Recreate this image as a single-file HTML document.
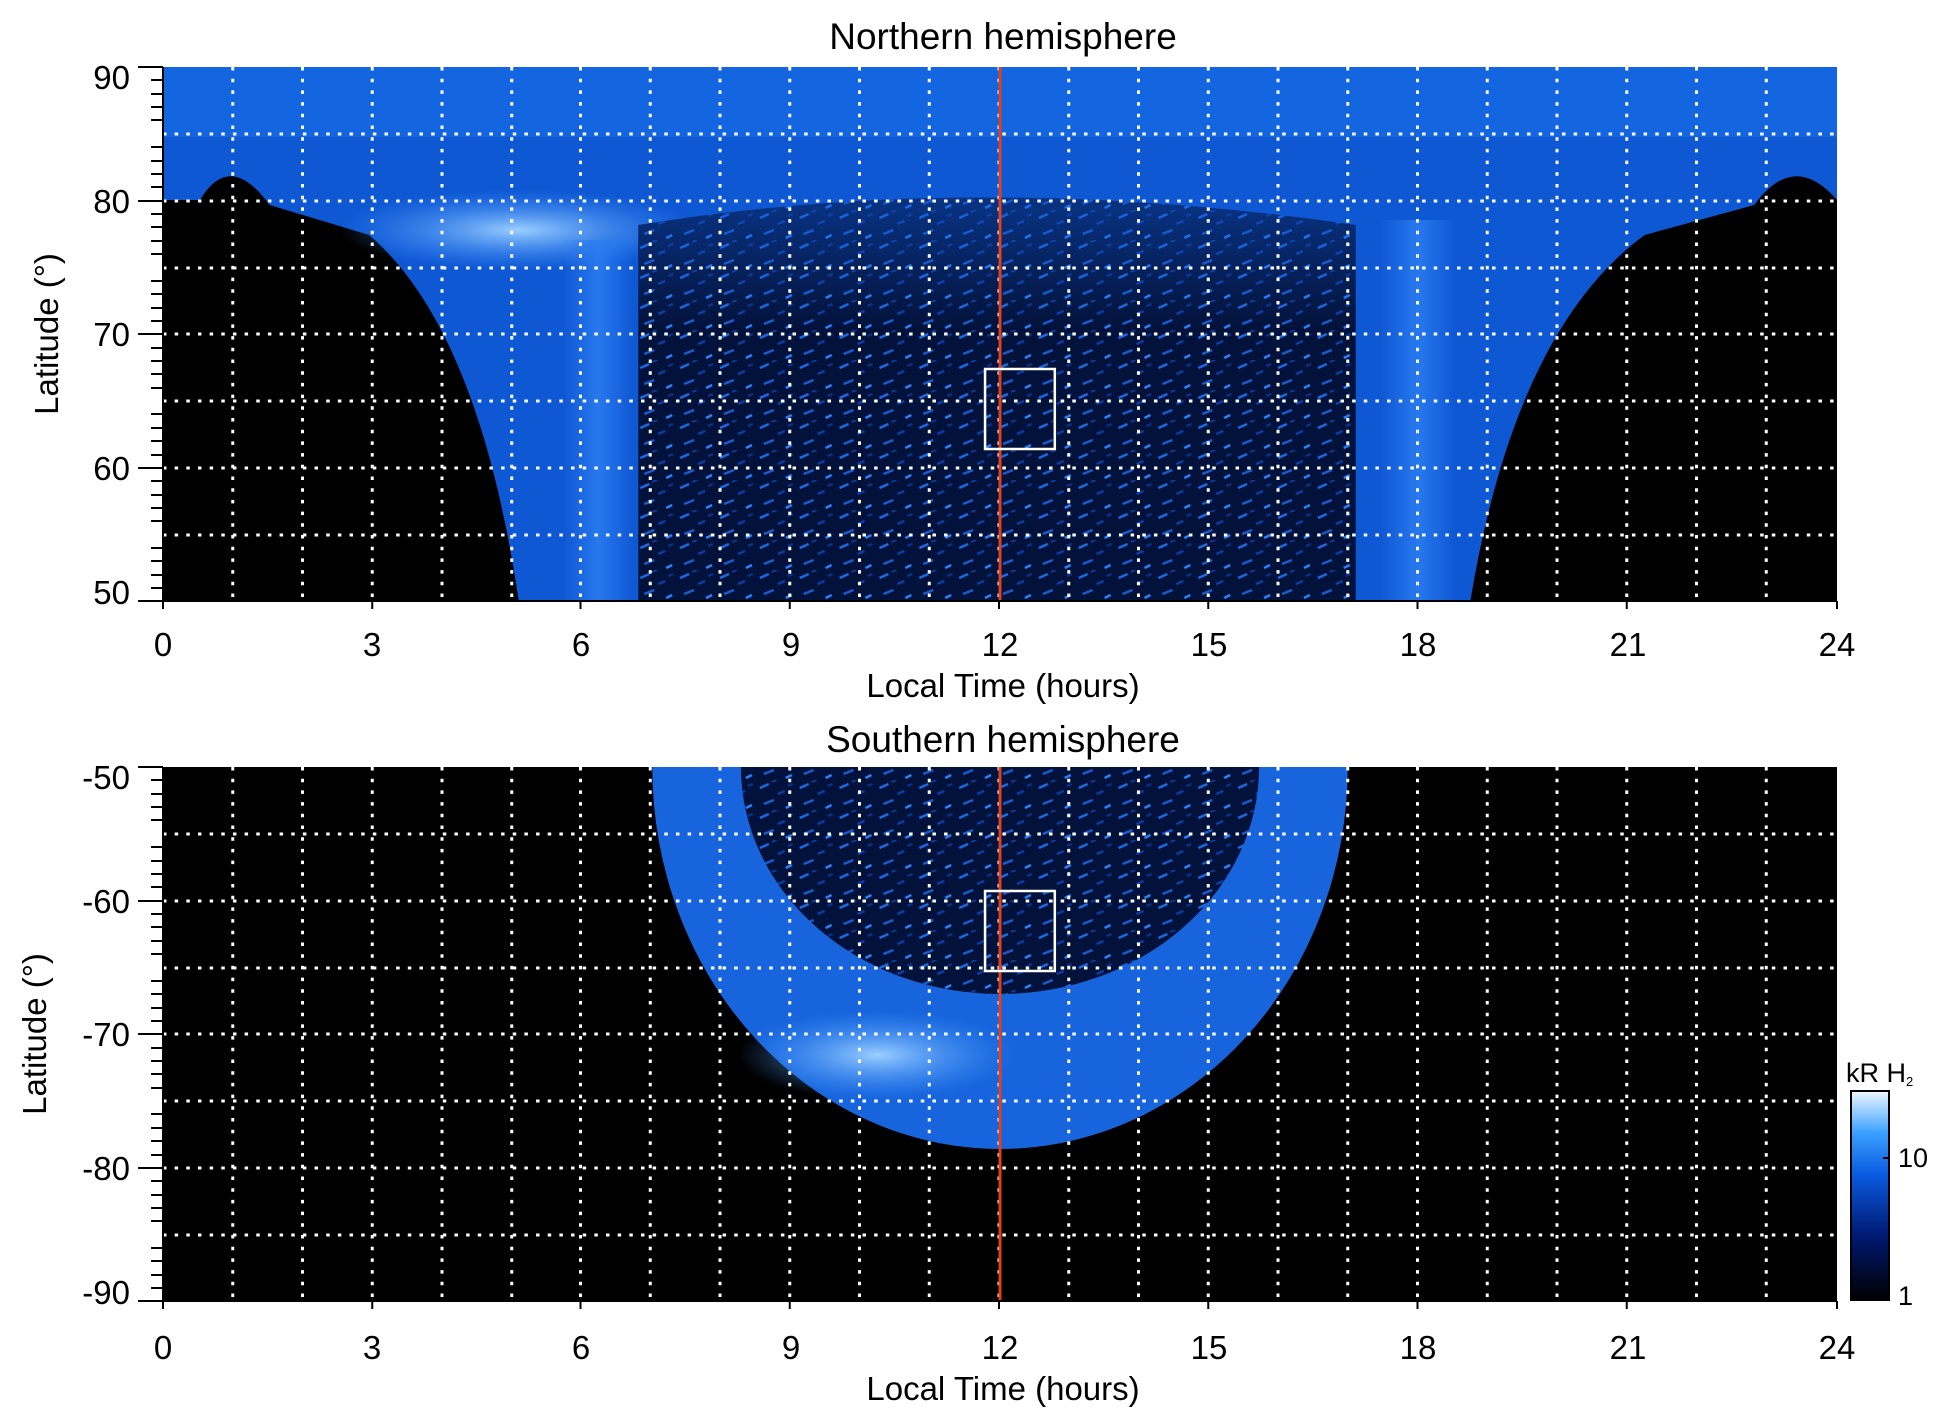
<!DOCTYPE html>
<html><head><meta charset="utf-8"><style>
html,body{margin:0;padding:0;background:#fff;}
svg{display:block;font-family:"Liberation Sans",sans-serif;}
</style></head><body>
<svg width="1950" height="1423" viewBox="0 0 1950 1423" xmlns="http://www.w3.org/2000/svg">
<defs>
<pattern id="spk" x="0" y="0" width="40" height="30" patternUnits="userSpaceOnUse">
<rect width="40" height="30" fill="#03123a"/>
<line x1="2" y1="8" x2="11" y2="4" stroke="#1a6ae8" stroke-width="2.5"/>
<line x1="20" y1="14" x2="27" y2="11" stroke="#0c3ca8" stroke-width="2.5"/>
<line x1="6" y1="24" x2="16" y2="20" stroke="#1a5cd0" stroke-width="2.5"/>
<line x1="28" y1="28" x2="34" y2="25" stroke="#2a80ff" stroke-width="2.5"/>
<line x1="30" y1="6" x2="35" y2="4" stroke="#0a2f88" stroke-width="2.5"/>
<line x1="14" y1="2" x2="19" y2="0" stroke="#0b3c9c" stroke-width="2"/>
</pattern>
<linearGradient id="cb" x1="0" y1="1" x2="0" y2="0">
<stop offset="0" stop-color="#000"/><stop offset="0.3" stop-color="#001870"/>
<stop offset="0.6" stop-color="#0a5ae0"/><stop offset="0.8" stop-color="#3aa0ff"/>
<stop offset="1" stop-color="#f0f8ff"/></linearGradient>
<linearGradient id="vb" x1="0" y1="0" x2="1" y2="0">
<stop offset="0" stop-color="#2a7cf0" stop-opacity="0"/><stop offset="0.5" stop-color="#2a7cf0" stop-opacity="0.9"/><stop offset="1" stop-color="#2a7cf0" stop-opacity="0"/></linearGradient>
<linearGradient id="fade" x1="0" y1="0" x2="0" y2="1">
<stop offset="0" stop-color="#0f58d4" stop-opacity="0.8"/><stop offset="1" stop-color="#0f58d4" stop-opacity="0"/></linearGradient>
<radialGradient id="br" cx="0.5" cy="0.5" r="0.5">
<stop offset="0" stop-color="#9ccfff"/><stop offset="1" stop-color="#3d94ff" stop-opacity="0"/></radialGradient>
<clipPath id="c1"><rect x="163" y="67" width="1680" height="534"/></clipPath>
<clipPath id="c2"><rect x="163" y="767" width="1680" height="534"/></clipPath>
</defs>

<g transform="translate(163,0) scale(0.996429,1) translate(-163,0)">
<!-- top plot -->
<rect x="163" y="67" width="1680" height="534" fill="#000"/>
<g clip-path="url(#c1)">
<path d="M163,67 H1843 V200 Q1800,150 1760,205 L1650,235 Q1520,330 1475,601 H520 Q480,330 370,235 L270,205 Q230,150 200,200 L163,200 Z" fill="#0f58d4"/>
<rect x="163" y="67" width="1680" height="70" fill="#1466e0"/>
<ellipse cx="520" cy="230" rx="180" ry="40" fill="url(#br)"/>
<path d="M640,225 Q980,170 1360,225 L1360,601 H640 Z" fill="url(#spk)"/>
<path d="M640,225 Q980,170 1360,225 L1360,330 H640 Z" fill="url(#fade)" opacity="0.6"/>
<rect x="565" y="240" width="70" height="361" fill="url(#vb)"/>
<rect x="1385" y="220" width="75" height="381" fill="url(#vb)"/>
</g>

<!-- bottom plot -->
<rect x="163" y="767" width="1680" height="534" fill="#000"/>
<g clip-path="url(#c2)">
<path d="M654,767 A349,382 0 0 0 1352,767 Z" fill="#1764dc"/>
<ellipse cx="880" cy="1055" rx="140" ry="45" fill="url(#br)"/>
<path d="M743,767 A260,227 0 0 0 1263,767 Z" fill="url(#spk)"/>
</g>

<!-- grid -->
<g stroke="#fff" stroke-width="3" stroke-dasharray="3.5 8.2" fill="none">
<path d="M233,67V601M303,67V601M373,67V601M443,67V601M513,67V601M582,67V601M652,67V601M722,67V601M792,67V601M862,67V601M932,67V601M1002,67V601M1072,67V601M1142,67V601M1212,67V601M1282,67V601M1352,67V601M1422,67V601M1492,67V601M1562,67V601M1632,67V601M1702,67V601M1772,67V601"/>
<path d="M233,767V1301M303,767V1301M373,767V1301M443,767V1301M513,767V1301M582,767V1301M652,767V1301M722,767V1301M792,767V1301M862,767V1301M932,767V1301M1002,767V1301M1072,767V1301M1142,767V1301M1212,767V1301M1282,767V1301M1352,767V1301M1422,767V1301M1492,767V1301M1562,767V1301M1632,767V1301M1702,767V1301M1772,767V1301"/>
<path d="M163,134H1843M163,201H1843M163,268H1843M163,334H1843M163,401H1843M163,468H1843M163,535H1843"/>
<path d="M163,834H1843M163,901H1843M163,968H1843M163,1034H1843M163,1101H1843M163,1168H1843M163,1235H1843"/>
</g>

<!-- red line and boxes -->
<line x1="1003" y1="67" x2="1003" y2="601" stroke="#e0401a" stroke-width="3"/>
<line x1="1003" y1="767" x2="1003" y2="1301" stroke="#e0401a" stroke-width="3"/>
<rect x="988" y="369" width="70" height="80" fill="none" stroke="#fff" stroke-width="2.5"/>
<rect x="988" y="891" width="70" height="80" fill="none" stroke="#fff" stroke-width="2.5"/>

<!-- axes ticks -->
<g stroke="#000" stroke-width="2" fill="none">
<path d="M163,67V601H1843M163,767V1301H1843"/>
<path d="M138,67H163M138,201H163M138,334H163M138,468H163M138,601H163M138,767H163M138,901H163M138,1034H163M138,1168H163M138,1301H163"/>
<path d="M151,80H163M151,94H163M151,107H163M151,120H163M151,147H163M151,161H163M151,174H163M151,187H163M151,214H163M151,227H163M151,241H163M151,254H163M151,281H163M151,294H163M151,308H163M151,321H163M151,348H163M151,361H163M151,374H163M151,388H163M151,414H163M151,428H163M151,441H163M151,455H163M151,481H163M151,495H163M151,508H163M151,521H163M151,548H163M151,561H163M151,575H163M151,588H163"/>
<path d="M151,780H163M151,794H163M151,807H163M151,820H163M151,847H163M151,861H163M151,874H163M151,887H163M151,914H163M151,927H163M151,941H163M151,954H163M151,981H163M151,994H163M151,1008H163M151,1021H163M151,1048H163M151,1061H163M151,1074H163M151,1088H163M151,1114H163M151,1128H163M151,1141H163M151,1155H163M151,1181H163M151,1195H163M151,1208H163M151,1221H163M151,1248H163M151,1261H163M151,1275H163M151,1288H163"/>
<path d="M163,601v8M373,601v8M582,601v8M792,601v8M1002,601v8M1212,601v8M1422,601v8M1632,601v8M1843,601v8"/>
<path d="M163,1301v8M373,1301v8M582,1301v8M792,1301v8M1002,1301v8M1212,1301v8M1422,1301v8M1632,1301v8M1843,1301v8"/>
</g>
</g>

<g font-size="33" fill="#000">
<text x="1003" y="49" text-anchor="middle" font-size="37">Northern hemisphere</text>
<text x="1003" y="752" text-anchor="middle" font-size="37">Southern hemisphere</text>
<g text-anchor="end">
<text x="130" y="89">90</text><text x="130" y="213">80</text><text x="130" y="346">70</text><text x="130" y="480">60</text><text x="130" y="604">50</text>
<text x="130" y="789">-50</text><text x="130" y="913">-60</text><text x="130" y="1046">-70</text><text x="130" y="1180">-80</text><text x="130" y="1304">-90</text>
</g>
<g text-anchor="middle">
<text x="163" y="656">0</text><text x="372" y="656">3</text><text x="581" y="656">6</text><text x="791" y="656">9</text><text x="1000" y="656">12</text><text x="1209" y="656">15</text><text x="1418" y="656">18</text><text x="1628" y="656">21</text><text x="1837" y="656">24</text>
<text x="163" y="1359">0</text><text x="372" y="1359">3</text><text x="581" y="1359">6</text><text x="791" y="1359">9</text><text x="1000" y="1359">12</text><text x="1209" y="1359">15</text><text x="1418" y="1359">18</text><text x="1628" y="1359">21</text><text x="1837" y="1359">24</text>
<text x="1003" y="697">Local Time (hours)</text>
<text x="1003" y="1400">Local Time (hours)</text>
</g>
<text transform="translate(58,334) rotate(-90)" text-anchor="middle">Latitude (°)</text>
<text transform="translate(46,1034) rotate(-90)" text-anchor="middle">Latitude (°)</text>
</g>

<!-- colorbar -->
<rect x="1851" y="1091" width="38" height="209" fill="url(#cb)" stroke="#000" stroke-width="2"/>
<line x1="1883" y1="1158" x2="1889" y2="1158" stroke="#000" stroke-width="2"/>
<g font-size="27" fill="#000">
<text x="1846" y="1082">kR H<tspan font-size="13" dy="4">2</tspan></text>
<text x="1898" y="1167">10</text>
<text x="1898" y="1305">1</text>
</g>
</svg>
</body></html>
